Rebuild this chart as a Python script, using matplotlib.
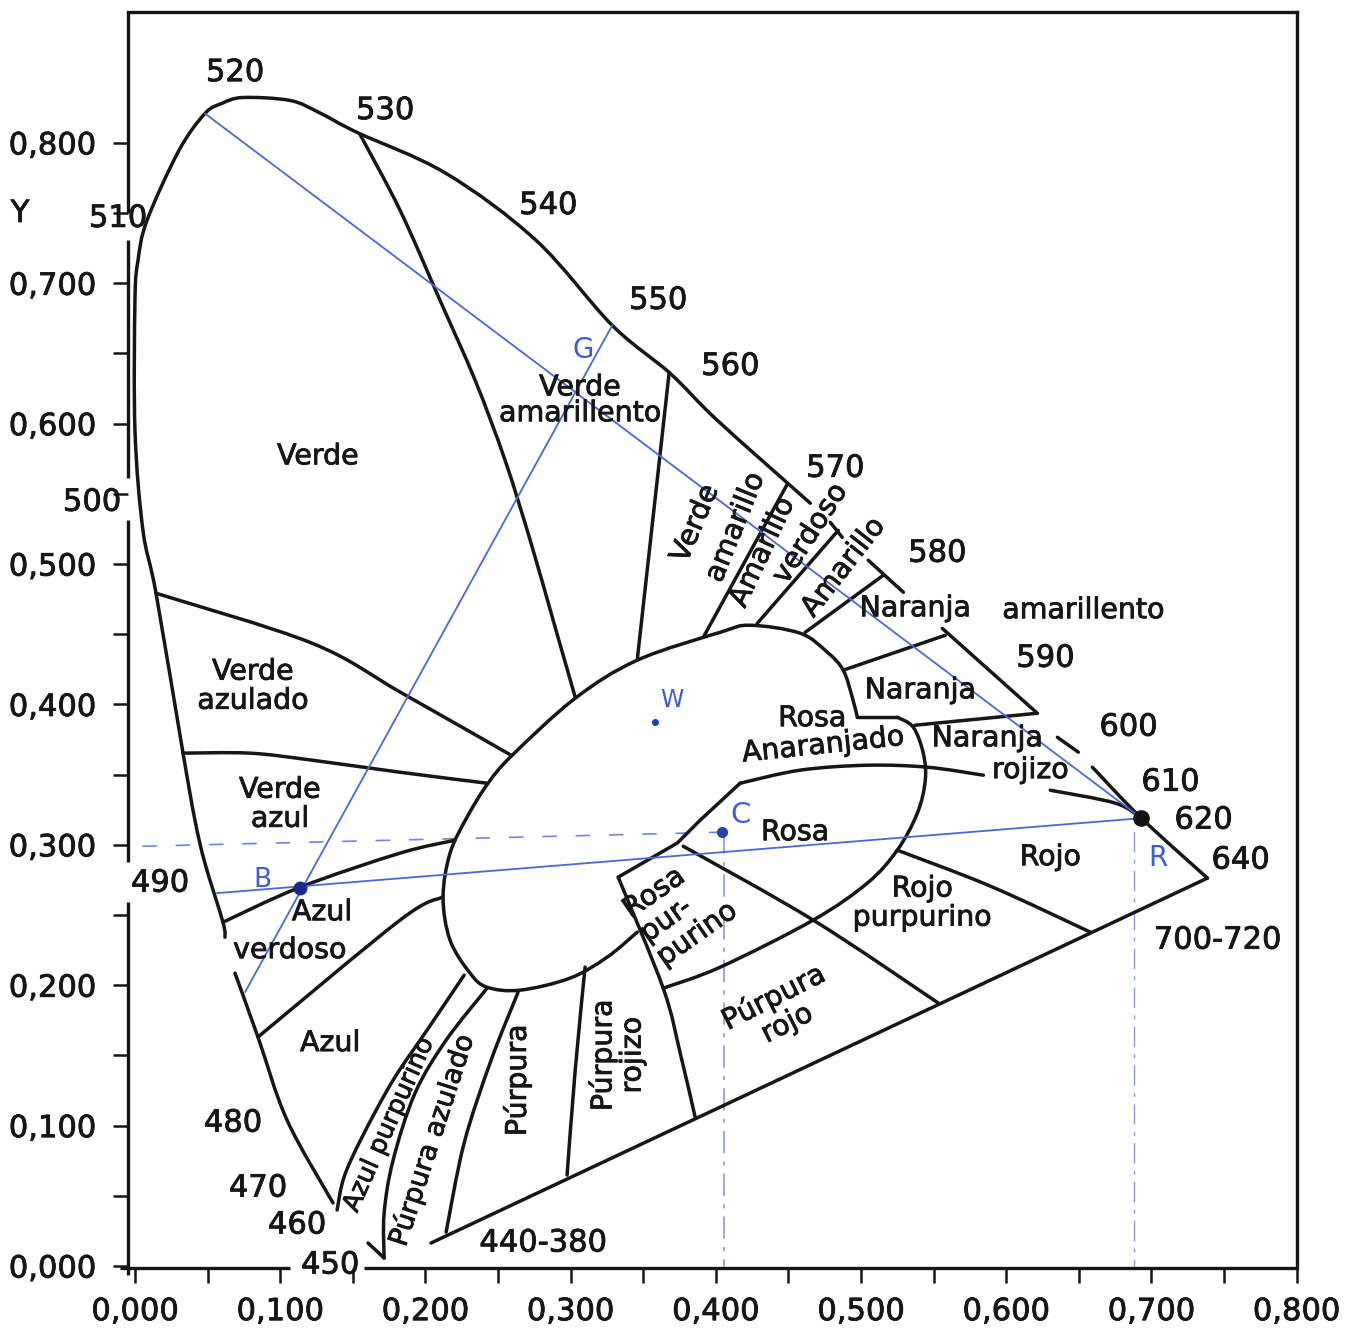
import matplotlib
matplotlib.use('Agg')
import matplotlib.pyplot as plt
import matplotlib.patheffects as pe
from matplotlib.path import Path
from matplotlib.patches import PathPatch
import numpy as np

plt.rcParams['font.family'] = ['DejaVu Sans']

# ---------------- data (CIE x, y chromaticity) ----------------
locus_blue = [(0.1364, 0.0449), (0.1047, 0.1040), (0.0847, 0.1631), (0.0689, 0.2086)]
locus_green = [(0.0620, 0.2342), (0.0606, 0.2449), (0.0482, 0.2869), (0.0413, 0.3176),
               (0.0331, 0.3653), (0.0145, 0.4792), (0.0055, 0.5240), (0.0000, 0.5952),
               (0.0000, 0.6878), (0.0021, 0.7163), (0.0083, 0.7448), (0.0303, 0.7946),
               (0.0482, 0.8209), (0.0599, 0.8281), (0.0744, 0.8323), (0.1068, 0.8302),
               (0.1268, 0.8216), (0.1530, 0.8074), (0.2143, 0.7782), (0.2763, 0.7305),
               (0.3287, 0.6700), (0.3686, 0.6358), (0.4010, 0.6024), (0.4651, 0.5433)]
locus_570 = [(0.4789, 0.5297), (0.4871, 0.5190)]
locus_580 = [(0.5050, 0.5027), (0.5292, 0.4799)]
locus_590 = [(0.5560, 0.4542), (0.6215, 0.3937)]
locus_600 = [(0.6353, 0.3766), (0.6497, 0.3660)]
locus_red = [(0.6594, 0.3553), (0.6931, 0.3190), (0.7386, 0.2763)]
locus_450 = [(0.1605, 0.0164), (0.1716, 0.0057)]
purple_line = [(0.2039, 0.0164), (0.7386, 0.2763)]

white_region = [(0.3459, 0.2378), (0.3252, 0.2200), (0.2997, 0.2051), (0.2653, 0.1965),
                (0.2425, 0.1986), (0.2308, 0.2086), (0.2170, 0.2321), (0.2122, 0.2627),
                (0.2170, 0.2941), (0.2287, 0.3197), (0.2432, 0.3439), (0.2598, 0.3638),
                (0.3032, 0.4044), (0.3459, 0.4315), (0.4031, 0.4514), (0.4237, 0.4564),
                (0.4582, 0.4507), (0.4768, 0.4372), (0.4878, 0.4244), (0.4940, 0.4051),
                (0.4975, 0.3909), (0.5250, 0.3909), (0.5360, 0.3838), (0.5429, 0.3653),
                (0.5443, 0.3460), (0.5388, 0.3225), (0.5250, 0.2962), (0.5043, 0.2727),
                (0.4671, 0.2464), (0.4031, 0.2129), (0.3638, 0.1979)]

rosa_inner = [(0.3328, 0.2770), (0.3734, 0.3012), (0.3893, 0.3176), (0.4168, 0.3439)]
rosa_purp_left = [(0.3328, 0.2770), (0.3638, 0.1979), (0.3755, 0.1517), (0.3858, 0.1061)]
rosa_purp_right = [(0.3776, 0.2990), (0.4671, 0.2464), (0.5533, 0.1873)]
anaranjado_curve = [(0.4168, 0.3439), (0.4582, 0.3532), (0.5043, 0.3567), (0.5457, 0.3553),
                    (0.5843, 0.3496)]
rojizo_curve = [(0.6304, 0.3389), (0.6752, 0.3297), (0.6931, 0.3190)]
rojo_line = [(0.5250, 0.2962), (0.5891, 0.2706), (0.6580, 0.2378)]

naranja_amar_line = [(0.4878, 0.4244), (0.5581, 0.4493)]
naranja_rojizo_line = [(0.5372, 0.3852), (0.6212, 0.3937)]
amarillo_line = [(0.4616, 0.4514), (0.5154, 0.4920)]
amarillo_verdoso_line = [(0.4286, 0.4578), (0.4844, 0.5240)]
verde_amarillo_line = [(0.3914, 0.4478), (0.4492, 0.5568)]
verde_amarillento_line = [(0.3679, 0.6365), (0.3459, 0.4315)]
verde_line = [(0.1550, 0.8060), (0.1826, 0.7519), (0.2101, 0.6878), (0.2343, 0.6308),
              (0.2549, 0.5739), (0.2722, 0.5169), (0.2880, 0.4600), (0.3032, 0.4051)]

verde_azulado_line = [(0.0145, 0.4792), (0.1220, 0.4436), (0.1840, 0.4080), (0.2591, 0.3638)]
verde_azul_line = [(0.0331, 0.3653), (0.0792, 0.3653), (0.1220, 0.3603), (0.1826, 0.3517),
                   (0.2425, 0.3439)]
azul_verdoso_line = [(0.0606, 0.2449), (0.1137, 0.2698), (0.1826, 0.2941), (0.2205, 0.3033)]
azul_line = [(0.0847, 0.1631), (0.1826, 0.2464), (0.2115, 0.2627)]

azul_purpurino_curve = [(0.2267, 0.2072), (0.2026, 0.1702), (0.1778, 0.1324), (0.1564, 0.0918),
                        (0.1440, 0.0634), (0.1392, 0.0399)]
purpura_azulado_curve = [(0.2425, 0.1979), (0.2143, 0.1609), (0.1929, 0.1232), (0.1778, 0.0755),
                         (0.1716, 0.0377), (0.1716, 0.0057)]
purpura_curve = [(0.2639, 0.1951), (0.2453, 0.1467), (0.2267, 0.0876), (0.2143, 0.0242)]
purpura_rojizo_line = [(0.3100, 0.2129), (0.3032, 0.1396), (0.2976, 0.0648)]

# blue construction (handwritten) points
point_R = (0.6931, 0.3190)
point_B = (0.1137, 0.2690)
point_G = (0.3287, 0.6700)
point_C = (0.4044, 0.3090)
point_W = (0.3583, 0.3873)
line_520_start = (0.0482, 0.8209)
line_G_start = (0.0758, 0.1951)
line_B_start = (0.0565, 0.2656)
dash_C_start = (0.0055, 0.2990)

x_ticks = [0.0, 0.1, 0.2, 0.3, 0.4, 0.5, 0.6, 0.7, 0.8]
x_tick_labels = ['0,000', '0,100', '0,200', '0,300', '0,400', '0,500', '0,600', '0,700', '0,800']
y_ticks = [0.0, 0.1, 0.2, 0.3, 0.4, 0.5, 0.6, 0.7, 0.8]
y_tick_labels = ['0,000', '0,100', '0,200', '0,300', '0,400', '0,500', '0,600', '0,700', '0,800']

wavelength_labels = ['520', '530', '540', '550', '560', '570', '580', '590', '600', '610',
                     '620', '640', '700-720', '510', '500', '490', '480', '470', '460',
                     '450', '440-380']
wavelength_pos = [(0.0689, 0.850), (0.1723, 0.823), (0.2846, 0.7554), (0.3603, 0.6878),
                  (0.4100, 0.6408), (0.4823, 0.5682), (0.5526, 0.5077), (0.6270, 0.4329),
                  (0.6842, 0.3838), (0.7131, 0.3446), (0.7359, 0.3176), (0.7614, 0.2891),
                  (0.7455, 0.2321), (-0.0117, 0.7462), (-0.0296, 0.5440), (0.0172, 0.2727),
                  (0.0675, 0.1018), (0.0847, 0.0555), (0.1116, 0.0292), (0.1344, 0.0007),
                  (0.2811, 0.0164)]

region_labels = ['Verde', 'Verde\namarillento', 'Verde\nazulado', 'Verde\nazul', 'Azul',
                 'verdoso', 'Azul', 'Azul purpurino', 'Púrpura azulado', 'Púrpura',
                 'Púrpura\nrojizo', 'Rosa\npur-\npurino', 'Púrpura\nrojo', 'Rojo\npurpurino',
                 'Rojo', 'Rosa', 'Rosa', 'Anaranjado', 'Naranja', 'Naranja', 'rojizo',
                 'Naranja', 'amarillento', 'Verde', 'amarillo', 'Amarillo', 'verdoso',
                 'Amarillo']
region_pos = [(0.1261, 0.5767), (0.3066, 0.6166), (0.0813, 0.4130), (0.0999, 0.3289),
              (0.1288, 0.2520), (0.1068, 0.2250), (0.1344, 0.1588), (0.1750, 0.1010),
              (0.2046, 0.0897), (0.2632, 0.1324), (0.3321, 0.1502), (0.3755, 0.2535),
              (0.4444, 0.1823), (0.5422, 0.2585), (0.6304, 0.2912), (0.4547, 0.3090),
              (0.4665, 0.3902), (0.4740, 0.3710), (0.5409, 0.4101), (0.5870, 0.3759),
              (0.6167, 0.3532), (0.5374, 0.4685), (0.6532, 0.4671), (0.3858, 0.5290),
              (0.4134, 0.5262), (0.4320, 0.5084), (0.4651, 0.5219), (0.4878, 0.4977)]
region_rot = [0, 0, 0, 0, 0, 0, 0, 66, 72, 90, 90, 35, 27, 0, 0, 0, 0, 6, 0, 0, 0, 0, 0,
              67, 68, 65, 57, 52]

# ---------------- figure ----------------
W, H = 1361, 1329
fig = plt.figure(figsize=(W / 100, H / 100), dpi=100)
ax = fig.add_axes([128 / W, 61 / H, 1169 / W, 1256 / H])
ax.set_xlim(-0.0048, 0.8003)
ax.set_ylim(-0.0014, 0.8932)

LW = 2.5
BLK = '#161616'


def smooth_path(pts):
    P = np.asarray(pts, dtype=float)
    n = len(P)
    if n < 3:
        return Path(P)
    ext = np.vstack([P[0], P, P[-1]])
    verts = [P[0]]
    codes = [Path.MOVETO]
    for i in range(n - 1):
        p0, p1, p2, p3 = ext[i], ext[i + 1], ext[i + 2], ext[i + 3]
        verts += [p1 + (p2 - p0) / 6.0, p2 - (p3 - p1) / 6.0, p2]
        codes += [Path.CURVE4] * 3
    return Path(verts, codes)


def draw(pts, smooth=True, **kw):
    opts = dict(edgecolor=BLK, lw=LW, capstyle='round', joinstyle='round',
                clip_on=False, zorder=3, fill=False)
    opts.update(kw)
    path = smooth_path(pts) if smooth else Path(np.asarray(pts, dtype=float))
    ax.add_patch(PathPatch(path, **opts))


notch = 20  # index of the notch corner in the white region outline
smooth_sets = [locus_blue, locus_green, locus_red, white_region[:notch + 1],
               white_region[notch + 1:], anaranjado_curve, rojizo_curve, rojo_line,
               verde_line, verde_azulado_line, verde_azul_line, azul_verdoso_line, azul_line,
               azul_purpurino_curve, purpura_azulado_curve, purpura_curve,
               purpura_rojizo_line, rosa_purp_left, rosa_purp_right]
for seg in smooth_sets:
    draw(seg)
for seg in [locus_570, locus_580, locus_590, locus_600, locus_450, purple_line,
            white_region[notch:notch + 2], rosa_inner, naranja_amar_line,
            naranja_rojizo_line, amarillo_line, amarillo_verdoso_line, verde_amarillo_line,
            verde_amarillento_line]:
    draw(seg, smooth=False)

# blue construction
BLUE = '#4a68d6'
draw([line_520_start, point_R], smooth=False, edgecolor=BLUE, lw=1.3, zorder=4)
draw([line_G_start, point_G], smooth=False, edgecolor=BLUE, lw=1.3, zorder=4)
draw([line_B_start, point_R], smooth=False, edgecolor=BLUE, lw=1.3, zorder=4)
draw([dash_C_start, point_C], smooth=False, edgecolor='#6f86dd', lw=1.2,
     ls=(0, (8, 12)), zorder=2)
draw([(point_C[0] + 0.001, point_C[1]), (point_C[0] + 0.001, 0.0)], smooth=False,
     edgecolor='#7d90d8', lw=1.1, ls=(0, (14, 6, 2, 6)), zorder=2)
draw([(point_R[0] - 0.005, point_R[1] - 0.01), (point_R[0] - 0.005, 0.0)], smooth=False,
     edgecolor='#8a9bd8', lw=1.0, ls=(0, (14, 6, 2, 6)), zorder=2)
ax.plot(*point_R, 'o', color='#111111', ms=11, zorder=5)
ax.plot(*point_B, 'o', color='#1b2a8a', ms=9, zorder=5)
ax.plot(*point_C, 'o', color='#2340b8', ms=7, zorder=5)
ax.plot(*point_W, 'o', color='#2340b8', ms=4, zorder=5)

hand = dict(color='#3d5cd2', family=['DejaVu Sans'], fontweight='normal',
            ha='center', va='center', zorder=6)
ax.text(0.3087, 0.6522, 'G', fontsize=20, **hand)
ax.text(0.3700, 0.4030, 'W', fontsize=17, **hand)
ax.text(0.4168, 0.3211, 'C', fontsize=21, **hand)
ax.text(0.0875, 0.2748, 'B', fontsize=19, **hand)
ax.text(0.7042, 0.2905, 'R', fontsize=20, **hand)

# texts
FS = 22
FS_REG = 20.5
small_rotated = {'Azul purpurino': 18.5, 'Púrpura azulado': 19.5}
thick = [pe.withStroke(linewidth=0.6, foreground=BLK)]
for lab, (x, y) in zip(wavelength_labels, wavelength_pos):
    ax.text(x, y, lab, fontsize=FS, ha='center', va='center', color=BLK, zorder=6,
            path_effects=thick)

line_sp = {'Verde\namarillento': 0.9}
for lab, (x, y), rot in zip(region_labels, region_pos, region_rot):
    ax.text(x, y, lab, fontsize=small_rotated.get(lab, FS_REG), ha='center', va='center',
            rotation=rot, rotation_mode='anchor', color=BLK,
            linespacing=line_sp.get(lab, 1.05),
            multialignment='left' if lab.startswith('Rosa\n') else 'center', zorder=6,
            path_effects=thick)

ax.text(-0.0792, 0.7497, 'Y', fontsize=FS, ha='center', va='center', color=BLK,
        path_effects=thick)

# frame: top/right as spines, left/bottom drawn with gaps
for s in ['top', 'right']:
    ax.spines[s].set_linewidth(2.4)
    ax.spines[s].set_color(BLK)
for s in ['left', 'bottom']:
    ax.spines[s].set_visible(False)

x0 = -0.0048
for ya, yb in [(0.8932, 0.7497), (0.7305, 0.5610), (0.5311, 0.2876), (0.2592, -0.0064)]:
    ax.plot([x0, x0], [ya, yb], color=BLK, lw=2.4, clip_on=False, zorder=3,
            solid_capstyle='butt')
for xa, xb in [(-0.0103, 0.1068), (0.1578, 0.8003)]:
    ax.plot([xa, xb], [-0.0014, -0.0014], color=BLK, lw=2.4, clip_on=False, zorder=3,
            solid_capstyle='butt')

ax.set_xticks(x_ticks)
ax.set_xticklabels(x_tick_labels)
ax.set_yticks(y_ticks)
ax.set_yticklabels(y_tick_labels)
ax.set_xticks([v + 0.05 for v in x_ticks[:-1]], minor=True)
ax.set_yticks([v + 0.05 for v in y_ticks[:-1]], minor=True)
ax.tick_params(which='both', direction='out', length=11, width=1.8, color=BLK)
ax.tick_params(axis='x', which='major', labelsize=FS, pad=10, labelcolor=BLK)
ax.tick_params(axis='y', which='major', labelsize=FS, pad=12, labelcolor=BLK)
ax.tick_params(top=False, right=False)
for lab in ax.get_xticklabels() + ax.get_yticklabels():
    lab.set_path_effects(thick)

fig.savefig('out.png', dpi=100, facecolor='white')
